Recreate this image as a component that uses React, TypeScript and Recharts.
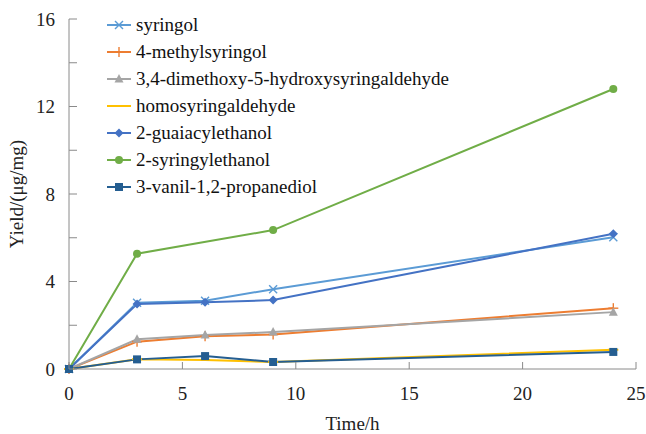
import React from "react"
import {
  LineChart,
  Line,
  XAxis,
  YAxis,
  Legend,
  Label,
} from "recharts"

// Reaction time (h) and yields (μg/mg)
const times = [0, 3, 6, 9, 24]
const syringol = [0, 3.03, 3.12, 3.65, 6.02]
const methylSyringol = [0, 1.25, 1.5, 1.58, 2.78]
const dimethoxyAldehyde = [0, 1.36, 1.55, 1.69, 2.6]
const homosyringaldehyde = [0, 0.45, 0.41, 0.32, 0.88]
const guaiacylethanol = [0, 2.97, 3.05, 3.15, 6.18]
const syringylethanol = [0, 5.27, null, 6.35, 12.8]
const vanilPropanediol = [0, 0.44, 0.59, 0.32, 0.78]

const xTicks = [0, 5, 10, 15, 20, 25]
const yTicks = [0, 2, 4, 6, 8, 10, 12, 14, 16]
const yLabelled = [0, 4, 8, 12, 16]

const FONT = "'Liberation Serif', 'Times New Roman', serif"
const AXIS = "#8a8a8a"

type Shape = "x" | "plus" | "triangle" | "dash" | "diamond" | "circle" | "square"

const series: { key: string; name: string; color: string; shape: Shape; values: (number | null)[] }[] = [
  { key: "s1", name: "syringol", color: "#5B9BD5", shape: "x", values: syringol },
  { key: "s2", name: "4-methylsyringol", color: "#ED7D31", shape: "plus", values: methylSyringol },
  { key: "s3", name: "3,4-dimethoxy-5-hydroxysyringaldehyde", color: "#A5A5A5", shape: "triangle", values: dimethoxyAldehyde },
  { key: "s4", name: "homosyringaldehyde", color: "#FFC000", shape: "dash", values: homosyringaldehyde },
  { key: "s5", name: "2-guaiacylethanol", color: "#4472C4", shape: "diamond", values: guaiacylethanol },
  { key: "s6", name: "2-syringylethanol", color: "#70AD47", shape: "circle", values: syringylethanol },
  { key: "s7", name: "3-vanil-1,2-propanediol", color: "#255E91", shape: "square", values: vanilPropanediol },
]

const data = times.map((t, i) => {
  const row: Record<string, number | null> = { t }
  series.forEach((s) => (row[s.key] = s.values[i]))
  return row
})

function marker(shape: Shape, color: string, cx: number, cy: number, key?: string) {
  switch (shape) {
    case "x":
      return (
        <g key={key} stroke={color} strokeWidth={1.4}>
          <line x1={cx - 4} y1={cy - 4} x2={cx + 4} y2={cy + 4} />
          <line x1={cx - 4} y1={cy + 4} x2={cx + 4} y2={cy - 4} />
        </g>
      )
    case "plus":
      return (
        <g key={key} stroke={color} strokeWidth={1.4}>
          <line x1={cx} y1={cy - 5} x2={cx} y2={cy + 5} />
          <line x1={cx - 5} y1={cy} x2={cx + 5} y2={cy} />
        </g>
      )
    case "triangle":
      return (
        <polygon
          key={key}
          points={`${cx},${cy - 5} ${cx + 4.5},${cy + 3.5} ${cx - 4.5},${cy + 3.5}`}
          fill={color}
        />
      )
    case "dash":
      return <line key={key} x1={cx - 5} y1={cy} x2={cx + 5} y2={cy} stroke={color} strokeWidth={2} />
    case "diamond":
      return (
        <polygon
          key={key}
          points={`${cx},${cy - 4.5} ${cx + 4.5},${cy} ${cx},${cy + 4.5} ${cx - 4.5},${cy}`}
          fill={color}
        />
      )
    case "circle":
      return <circle key={key} cx={cx} cy={cy} r={4} fill={color} />
    default:
      return <rect key={key} x={cx - 4} y={cy - 4} width={8} height={8} fill={color} />
  }
}

const XTick = (props: any) => {
  const { x, y, payload } = props
  return (
    <g>
      <line x1={x} y1={y} x2={x} y2={y - 7} stroke={AXIS} />
      <text x={x} y={y + 31} textAnchor="middle" fontSize={19} fontFamily={FONT} fill="#222">
        {payload.value}
      </text>
    </g>
  )
}

const YTick = (props: any) => {
  const { x, y, payload } = props
  return (
    <g>
      <line x1={x} y1={y} x2={x + 8} y2={y} stroke={AXIS} />
      {yLabelled.includes(payload.value) && (
        <text x={x - 14} y={y + 6.5} textAnchor="end" fontSize={19} fontFamily={FONT} fill="#222">
          {payload.value}
        </text>
      )}
    </g>
  )
}

const LegendBox = () => (
  <div style={{ fontFamily: FONT, fontSize: 19, color: "#111" }}>
    {series.map((s) => (
      <div key={s.key} style={{ display: "flex", alignItems: "center", height: 27 }}>
        <svg width={24} height={14}>
          <line x1={0} y1={7} x2={24} y2={7} stroke={s.color} strokeWidth={2} />
          {marker(s.shape, s.color, 12, 7)}
        </svg>
        <span style={{ marginLeft: 5, lineHeight: "27px", fontFamily: FONT }}>{s.name}</span>
      </div>
    ))}
  </div>
)

export default function App() {
  return (
    <div style={{ position: "absolute", left: 0, top: 0, width: 646, height: 434 }}>
      <LineChart
        width={646}
        height={434}
        data={data}
        margin={{ top: 19, right: 10, left: 24, bottom: 0 }}
      >
        <XAxis
          dataKey="t"
          type="number"
          domain={[0, 25]}
          ticks={xTicks}
          tickSize={0}
          tickMargin={0}
          tick={<XTick />}
          stroke={AXIS}
          height={65}
          interval={0}
        >
          <Label
            content={({ viewBox }: any) => (
              <text
                x={viewBox.x + viewBox.width / 2}
                y={viewBox.y + viewBox.height - 4}
                textAnchor="middle"
                fontSize={19}
                fontFamily={FONT}
                fill="#222"
              >
                Time/h
              </text>
            )}
          />
        </XAxis>
        <YAxis
          type="number"
          domain={[0, 16]}
          ticks={yTicks}
          tickSize={0}
          tickMargin={0}
          tick={<YTick />}
          stroke={AXIS}
          width={45}
          interval={0}
        >
          <Label
            content={({ viewBox }: any) => (
              <text
                transform={`translate(${viewBox.x - 7.5},${viewBox.y + viewBox.height / 2}) rotate(-90)`}
                textAnchor="middle"
                dominantBaseline="central"
                fontSize={19}
                fontFamily={FONT}
                fill="#222"
              >
                Yield/(μg/mg)
              </text>
            )}
          />
        </YAxis>
        <Legend
          layout="vertical"
          align="center"
          verticalAlign="middle"
          content={<LegendBox />}
          wrapperStyle={{ top: 11, left: 107, width: "auto", height: "auto" }}
        />
        {series.map((s) => (
          <Line
            key={s.key}
            dataKey={s.key}
            name={s.name}
            type="linear"
            stroke={s.color}
            strokeWidth={2}
            connectNulls
            isAnimationActive={false}
            dot={(p: any) =>
              p.cx == null || p.cy == null || p.value == null
                ? <g key={`${s.key}-${p.index}`} />
                : marker(s.shape, s.color, p.cx, p.cy, `${s.key}-${p.index}`)
            }
            activeDot={false}
          />
        ))}
      </LineChart>
    </div>
  )
}
